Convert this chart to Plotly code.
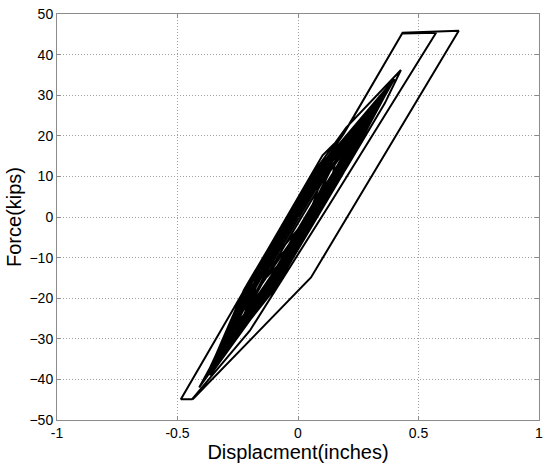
import plotly.graph_objects as go

# Hysteresis history (displacement in inches, force in kips)
displacement = [
    0.0,
    0.022, 0.090, 0.062, -0.002, -0.070,
    -0.068, 0.028, 0.130, 0.093, -0.003, -0.110,
    -0.107, 0.017, 0.160, 0.127, 0.003, -0.150,
    -0.072, 0.042, 0.190, 0.077, -0.037, -0.190,
    -0.136, 0.036, 0.220, 0.136, -0.036, -0.220,
    -0.165, 0.075, 0.240, 0.150, -0.090, -0.250,
    -0.169, 0.039, 0.270, 0.159, -0.049, -0.270,
    -0.123, 0.043, 0.280, 0.098, -0.068, -0.290,
    -0.186, 0.046, 0.300, 0.156, -0.076, -0.310,
    -0.215, 0.095, 0.330, 0.185, -0.125, -0.330,
    -0.210, 0.050, 0.340, 0.170, -0.090, -0.350,
    -0.162, 0.042, 0.350, 0.112, -0.092, -0.370,
    -0.222, 0.062, 0.380, 0.187, -0.097, -0.380,
    -0.213, 0.083, 0.400, 0.188, -0.108, -0.390,
    -0.128, 0.068, 0.265, 0.143, -0.053, -0.245,
    -0.131, 0.041, 0.305, 0.106, -0.066, -0.285,
    -0.146, 0.106, 0.335, 0.166, -0.086, -0.325,
    -0.210, 0.130, 0.365, 0.195, -0.145, -0.345,
    -0.163, 0.053, 0.285, 0.113, -0.103, -0.275,
    -0.133, 0.083, 0.385, 0.158, -0.058, -0.365,
    -0.225, 0.090, 0.200, 0.427, 0.360, 0.200, -0.120, -0.410,
    0.090, 0.190, 0.432, 0.573, 0.360, 0.130, -0.200, -0.440,
    -0.486, 0.102, 0.185, 0.434, 0.667, 0.054, -0.437,
]
force = [
    0.0,
    3.2, 8.0, 3.2, -3.2, -8.0,
    -4.8, 4.8, 12.0, 4.8, -4.8, -12.0,
    -6.7, 5.7, 15.0, 5.7, -6.7, -16.0,
    -6.7, 4.7, 18.0, 4.7, -6.7, -20.0,
    -10.1, 7.1, 20.0, 7.1, -10.1, -23.0,
    -14.0, 10.0, 22.0, 10.0, -14.0, -26.0,
    -12.4, 8.4, 24.0, 8.4, -12.4, -28.0,
    -10.75, 5.75, 25.0, 5.75, -10.75, -30.0,
    -14.6, 8.6, 26.0, 8.6, -14.6, -32.0,
    -18.5, 12.5, 28.0, 12.5, -18.5, -34.0,
    -16.5, 9.5, 29.0, 9.5, -16.5, -36.0,
    -14.2, 6.2, 30.0, 6.2, -14.2, -38.0,
    -17.7, 10.7, 32.0, 10.7, -17.7, -39.0,
    -17.8, 11.8, 34.0, 11.8, -17.8, -40.0,
    -12.3, 7.3, 22.0, 7.3, -12.3, -27.0,
    -11.05, 6.05, 26.0, 6.05, -11.05, -31.0,
    -16.1, 9.1, 28.0, 9.1, -16.1, -35.0,
    -20.0, 14.0, 31.0, 14.0, -20.0, -37.0,
    -13.8, 7.8, 24.0, 7.8, -13.8, -30.0,
    -13.8, 7.8, 33.0, 7.8, -13.8, -39.0,
    -18.0, 13.0, 22.0, 36.2, 28.0, 12.0, -18.0, -42.0,
    12.0, 20.5, 45.2, 45.4, 25.0, 3.0, -28.0, -44.9,
    -44.9, 15.2, 20.1, 45.4, 45.9, -14.9, -44.9,
]

x_ticks = [-1, -0.5, 0, 0.5, 1]
x_tick_text = ["-1", "-0.5", "0", "0.5", "1"]
y_ticks = [-50, -40, -30, -20, -10, 0, 10, 20, 30, 40, 50]

fig = go.Figure()
fig.add_trace(go.Scatter(
    x=displacement, y=force, mode="lines",
    line=dict(color="black", width=2),
    showlegend=False, hoverinfo="skip",
))

axis_common = dict(
    showline=True, linecolor="#8c8c8c", linewidth=1, mirror="ticks",
    ticks="inside", ticklen=4, tickcolor="#8c8c8c",
    showgrid=True, gridcolor="#a0a0a0", griddash="1px,2px", gridwidth=1,
    zeroline=False, automargin=False, ticklabeloverflow="allow",
    tickfont=dict(family="Arial, Liberation Sans", size=14, color="black"),
)

fig.update_layout(
    width=543, height=470,
    margin=dict(l=57, r=4, t=14, b=50),
    paper_bgcolor="white", plot_bgcolor="white",
    xaxis=dict(
        range=[-1, 1], tickvals=x_ticks, ticktext=x_tick_text,
        title=dict(text="Displacment(inches)", standoff=2,
                   font=dict(family="Arial, Liberation Sans", size=20, color="black")),
        **axis_common,
    ),
    yaxis=dict(
        range=[-50, 50], tickvals=y_ticks,
        title=dict(text="Force(kips)", standoff=2,
                   font=dict(family="Arial, Liberation Sans", size=20, color="black")),
        **axis_common,
    ),
)

fig.write_html("out.html", config={"displayModeBar": False},
               post_script="document.body.style.margin='0px';")
